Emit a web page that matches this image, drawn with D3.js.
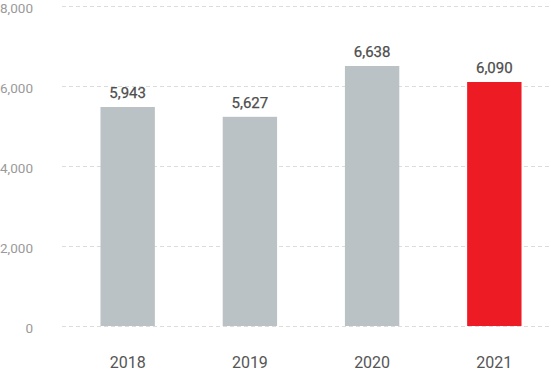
<!DOCTYPE html>
<html>
<head>
<meta charset="utf-8">
<script src="https://cdn.jsdelivr.net/npm/d3@7"></script>
<style>
  body { margin: 0; background: #fff; }
  svg text { font-family: Roboto, "Noto Sans", sans-serif; }
</style>
</head>
<body>
<div id="vis"></div>
<script>
// data (bar heights as drawn, labels as printed)
var years = ["2018", "2019", "2020", "2021"];
var barValues = [5475, 5230, 6500, 6100];
var labelValues = [5943, 5627, 6638, 6090];
var yTicks = [0, 2000, 4000, 6000, 8000];

var W = 551, H = 371;
var margin = {top: 6, right: 0, bottom: 45, left: 62};

var svg = d3.select("div#vis")
  .append("svg")
  .attr("width", W)
  .attr("height", H);

var width = W - margin.left - margin.right;
var height = H - margin.top - margin.bottom;

var g = svg.append("g")
  .attr("transform", "translate(" + margin.left + "," + margin.top + ")");

var x = d3.scaleBand()
  .domain(years)
  .range([4.5, width + 4.5])
  .paddingInner(0.555)
  .paddingOuter(0.278);

var y = d3.scaleLinear()
  .domain([0, 8000])
  .range([height, 0]);

// gridlines
g.append("g")
  .selectAll("line")
  .data(yTicks)
  .enter().append("line")
  .attr("x1", 0)
  .attr("x2", width)
  .attr("y1", function(d) { return y(d) + 0.5; })
  .attr("y2", function(d) { return y(d) + 0.5; })
  .attr("stroke", "#dcdcdc")
  .attr("stroke-dasharray", "4,3");

// y labels
svg.append("g")
  .selectAll("text")
  .data(yTicks)
  .enter().append("text")
  .attr("x", 33)
  .attr("y", function(d) { return margin.top + y(d); })
  .attr("dy", "0.5em")
  .attr("text-anchor", "end")
  .attr("font-size", 13.5)
  .attr("fill", "#9a9a9a")
  .text(d3.format(","));

var data = years.map(function(d, i) {
  return {year: d, value: barValues[i], label: labelValues[i]};
});

g.selectAll(".bar")
  .data(data)
  .enter().append("rect")
  .attr("class", "bar")
  .attr("x", function(d) { return x(d.year); })
  .attr("y", function(d) { return y(d.value); })
  .attr("width", x.bandwidth())
  .attr("height", function(d) { return y(0) - y(d.value); })
  .attr("fill", function(d, i) { return i === years.length - 1 ? "#ed1c24" : "#bac2c5"; });

g.selectAll(".label")
  .data(data)
  .enter().append("text")
  .attr("class", "label")
  .attr("x", function(d) { return x(d.year) + x.bandwidth() / 2; })
  .attr("y", function(d) { return y(d.value) - 9; })
  .attr("text-anchor", "middle")
  .attr("font-size", 15)
  .attr("fill", "#4e4e4e")
  .attr("stroke", "#4e4e4e")
  .attr("stroke-width", 0.25)
  .text(function(d) { return d3.format(",")(d.label); });

// x axis labels
g.append("g")
  .selectAll("text")
  .data(years)
  .enter().append("text")
  .attr("x", function(d) { return x(d) + x.bandwidth() / 2; })
  .attr("y", height + 42)
  .attr("text-anchor", "middle")
  .attr("font-size", 16)
  .attr("fill", "#555")
  .text(function(d) { return d; });
</script>
</body>
</html>
